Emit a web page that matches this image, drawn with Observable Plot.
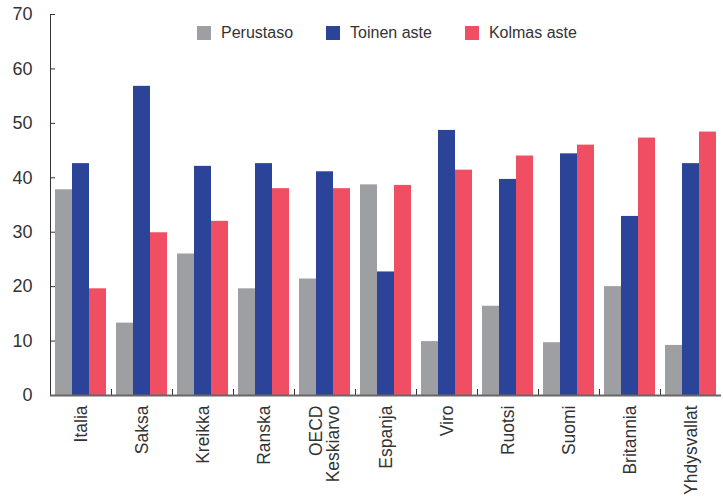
<!DOCTYPE html>
<html>
<head>
<meta charset="utf-8">
<script src="https://cdn.jsdelivr.net/npm/d3@7"></script>
<script src="https://cdn.jsdelivr.net/npm/@observablehq/plot@0.6"></script>
<style>
  html, body { margin: 0; padding: 0; background: white; }
  #wrap { position: relative; width: 723px; height: 496px; overflow: hidden; font-family: Arial, "Liberation Sans", sans-serif; color: #333; }
  #legend { position: absolute; left: 197px; top: 25px; display: flex; gap: 33px; font-size: 16px; line-height: 16px; }
  #legend .item { display: flex; align-items: center; gap: 10px; }
  #legend .sw { width: 14px; height: 14px; display: inline-block; }
  svg g[aria-label="y-axis tick label"] text { font-size: 18px; }
  svg g[aria-label="fx-axis tick label"] text { font-size: 17.5px; }
</style>
</head>
<body>
<div id="wrap"></div>
<script>
const countries = ["Italia", "Saksa", "Kreikka", "Ranska", "OECD\nKeskiarvo", "Espanja", "Viro", "Ruotsi", "Suomi", "Britannia", "Yhdysvallat"];
const series = ["Perustaso", "Toinen aste", "Kolmas aste"];
const perustaso = [37.8, 13.3, 26.0, 19.6, 21.4, 38.7, 9.9, 16.4, 9.7, 20.0, 9.2];
const toinenAste = [42.6, 56.8, 42.1, 42.6, 41.1, 22.7, 48.7, 39.7, 44.4, 32.9, 42.6];
const kolmasAste = [19.6, 29.9, 32.0, 38.0, 38.0, 38.6, 41.4, 44.0, 46.0, 47.3, 48.4];
const yTicks = [0, 10, 20, 30, 40, 50, 60, 70];
const colors = ["#9d9fa3", "#2b4499", "#ef4e63"];

const seriesValues = [perustaso, toinenAste, kolmasAste];
const data = [];
countries.forEach((c, i) => {
  series.forEach((s, j) => data.push({country: c, series: s, value: seriesValues[j][i]}));
});

const chart = Plot.plot({
  width: 723,
  height: 496,
  marginTop: 14,
  marginBottom: 101,
  marginLeft: 47,
  marginRight: 0,
  style: {fontFamily: "Arial, 'Liberation Sans', sans-serif", color: "#333", background: "white", overflow: "visible"},
  fx: {domain: countries, padding: 0, label: null, tickRotate: -90, tickSize: 0, tickPadding: 10},
  x: {domain: series, paddingInner: 0, paddingOuter: 0.26, axis: null},
  y: {domain: [0, 70], ticks: yTicks, tickSize: -5, tickPadding: 23, line: true, label: null},
  color: {domain: series, range: colors},
  marks: [
    Plot.barY(data, {fx: "country", x: "series", y: "value", fill: "series"}),
    Plot.frame({anchor: "left", insetTop: 375, stroke: "#333"}),
    Plot.ruleY([0], {stroke: "#666", strokeWidth: 2})
  ]
});

const wrap = document.getElementById("wrap");
wrap.appendChild(chart);

const legend = document.createElement("div");
legend.id = "legend";
series.forEach((s, j) => {
  const item = document.createElement("div");
  item.className = "item";
  const sw = document.createElement("span");
  sw.className = "sw";
  sw.style.background = colors[j];
  const label = document.createElement("span");
  label.textContent = s;
  item.appendChild(sw);
  item.appendChild(label);
  legend.appendChild(item);
});
wrap.appendChild(legend);
</script>
</body>
</html>
